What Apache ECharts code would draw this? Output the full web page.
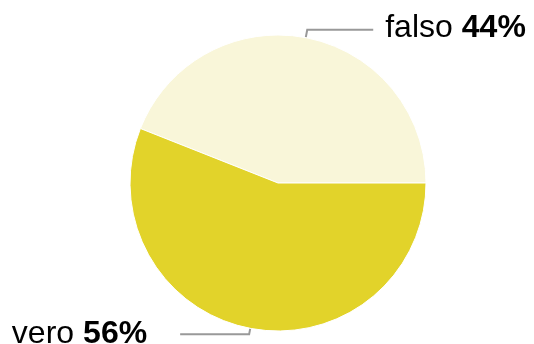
<!DOCTYPE html>
<html><head><meta charset="utf-8">
<script src="https://cdn.jsdelivr.net/npm/echarts@6/dist/echarts.min.js"></script>
<style>html,body{margin:0;padding:0;background:#fff}#c{width:534px;height:344px}</style>
</head><body><div id="c"></div>
<script>
const categories = ['falso', 'vero'];
const values = [44, 56];
const colors = ['#f9f6d9', '#e2d32a'];

const chart = echarts.init(document.getElementById('c'), null, {renderer: 'canvas'});
const lineCfg = [
  {length: 8, length2: 66},
  {length: 6, length2: 69}
];
const gap = [12, 33];
const pad = [[0, 0, 4, 0], [0, 0, 0, 0]];
chart.setOption({
  animation: false,
  series: [{
    type: 'pie',
    center: [278, 183],
    radius: 148,
    startAngle: 0,
    clockwise: false,
    avoidLabelOverlap: false,
    itemStyle: {borderColor: '#fff', borderWidth: 1},
    label: {
      show: true,
      formatter: p => '{n|' + p.name + '}{b|' + p.value + '%}',
      rich: {
        n: {fontFamily: 'Liberation Sans', fontSize: 32, color: '#000', padding: [0, 9, 0, 0]},
        b: {fontFamily: 'Liberation Sans', fontSize: 32, fontWeight: 'bold', color: '#000'}
      }
    },
    labelLine: {show: true, lineStyle: {color: '#999', width: 2}},
    data: categories.map((c, i) => ({
      name: c, value: values[i],
      itemStyle: {color: colors[i]},
      label: {distanceToLabelLine: gap[i], padding: pad[i]},
      labelLine: lineCfg[i]
    }))
  }]
});
</script></body></html>
